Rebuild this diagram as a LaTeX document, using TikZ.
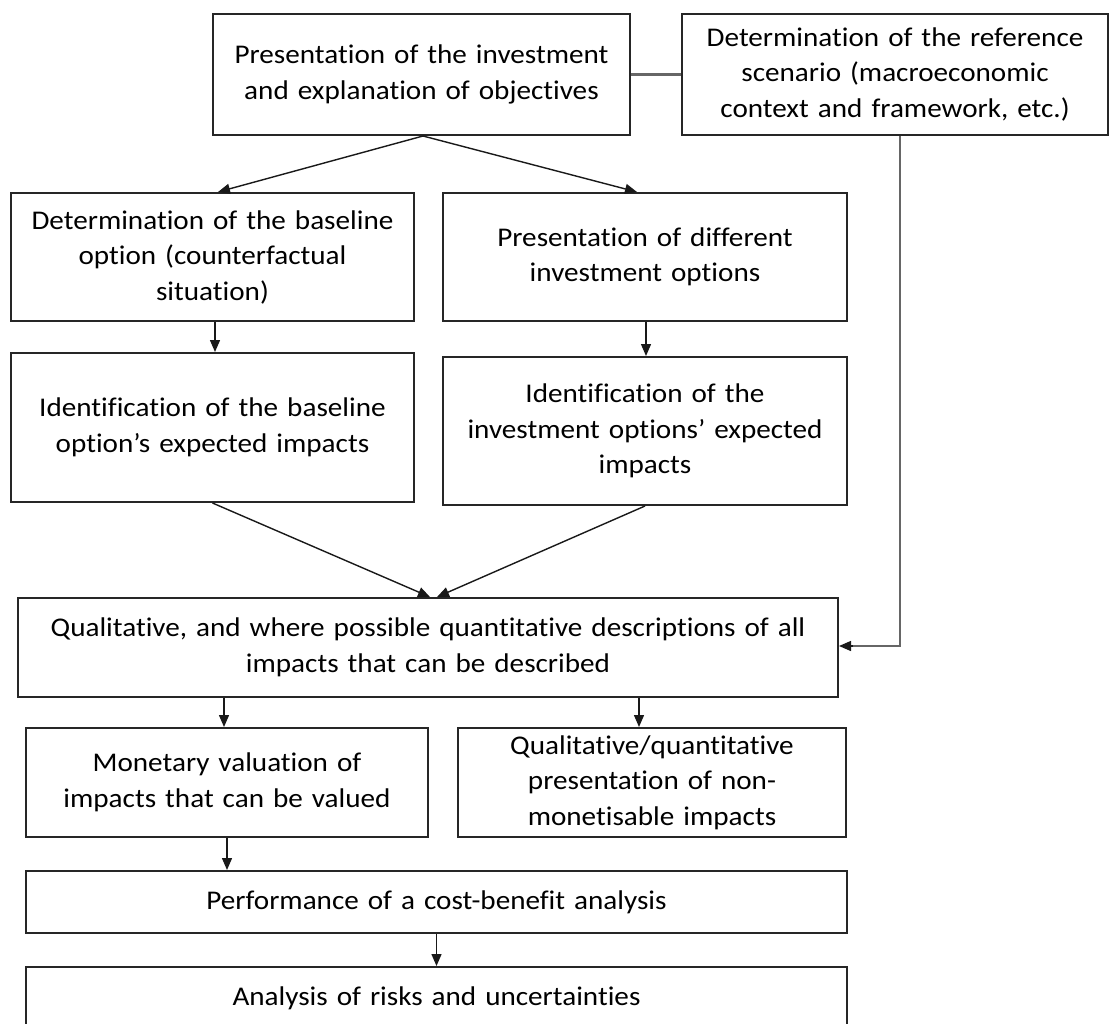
\documentclass[tikz,border=0pt]{standalone}
\usepackage{fontspec}
\setmainfont{Carlito}[Ligatures={NoCommon},FakeStretch=1.08]
\usetikzlibrary{arrows.meta,calc}
\begin{document}
\begin{tikzpicture}[x=1pt,y=-1pt,
  box/.style={draw=black!85,line width=2pt,inner sep=0pt,align=center,
    font=\fontsize{27}{35.5}\selectfont},
  arr/.style={draw=black!90,line width=1.4pt,-{Triangle[length=12pt,width=10pt]}},
  glink/.style={draw=black!60,line width=2.2pt}]
\useasboundingbox[fill=white] (0,0) rectangle (1110,1024);
\newcommand{\bx}[6]{\node[box,minimum width=#4-#2,minimum height=#5-#3,text width=#4-#2-8] (#1) at ({(#2+#4)/2},{(#3+#5)/2}) {#6};}
\bx{b1}{213}{14}{630}{135}{Presentation of the investment\\and explanation of objectives}
\bx{b2}{682}{14}{1108}{135}{Determination of the reference\\scenario (macroeconomic\\context and framework, etc.)}
\bx{b3}{11}{193}{414}{321}{Determination of the baseline\\option (counterfactual\\situation)}
\bx{b4}{443}{193}{847}{321}{Presentation of different\\investment options}
\bx{b5}{11}{353}{414}{502}{Identification of the baseline\\option’s expected impacts}
\bx{b6}{443}{357}{847}{505}{Identification of the\\investment options’ expected\\impacts}
\bx{b7}{18}{598}{838}{697}{Qualitative, and where possible quantitative descriptions of all\\impacts that can be described}
\bx{b8}{26}{728}{428}{837}{Monetary valuation of\\impacts that can be valued}
\bx{b9}{458}{728}{846}{837}{Qualitative/quantitative\\presentation of non-\\monetisable impacts}
\bx{b10}{26}{871}{847}{933}{Performance of a cost-benefit analysis}
\bx{b11}{26}{967}{847}{1029}{Analysis of risks and uncertainties}
% connectors
\draw[glink] (b1.east) -- (b2.west);
\draw[arr] ([xshift=1.5pt]b1.south) -- ([xshift=5.5pt]b3.north);
\draw[arr] ([xshift=1.5pt]b1.south) -- ([xshift=-8pt]b4.north);
\draw[arr] ([xshift=2.5pt]b3.south) -- ([xshift=2.5pt]b5.north);
\draw[arr] ([xshift=1pt]b4.south) -- ([xshift=1pt]b6.north);
\draw[arr] (b5.south) -- ([xshift=2pt]b7.north);
\draw[arr] (b6.south) -- ([xshift=9pt]b7.north);
\draw[glink] ([xshift=5pt]b2.south) |- ([xshift=10pt,yshift=1.5pt]b7.east);
\draw[arr] ([xshift=14pt,yshift=1.5pt]b7.east) -- ([yshift=1.5pt]b7.east);
\draw[arr] ([xshift=-3pt]b8.north |- b7.south) -- ([xshift=-3pt]b8.north);
\draw[arr] ([xshift=-13pt]b9.north |- b7.south) -- ([xshift=-13pt]b9.north);
\draw[arr] (b8.south) -- (b8.south |- b10.north);
\draw[arr] (b10.south) -- (b11.north);
\end{tikzpicture}
\end{document}
